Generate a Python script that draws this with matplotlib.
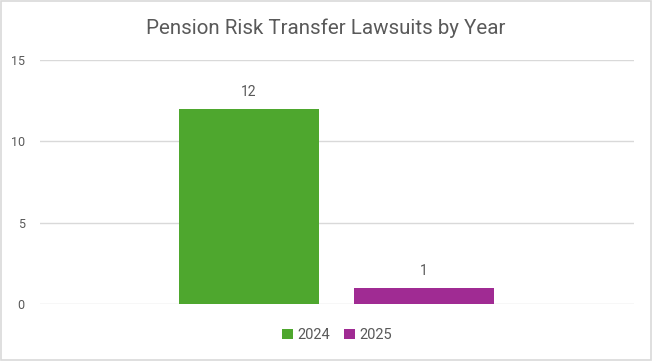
import matplotlib.pyplot as plt
from matplotlib.patches import Rectangle

years = ['2024', '2025']
lawsuits = [12, 1]
colors = ['#4EA72E', '#A02B93']
y_ticks = [0, 5, 10, 15]

plt.rcParams['font.family'] = ['Roboto', 'DejaVu Sans']
text_color = '#595959'

fig = plt.figure(figsize=(6.52, 3.61), dpi=100)
ax = fig.add_axes([40 / 652, 57 / 361, 594 / 652, 244 / 361])

positions = [0, 1.25]
for pos, year, val, col in zip(positions, years, lawsuits, colors):
    ax.bar(pos, val, width=1.0, color=col, label=year, zorder=3)
    ax.text(pos, val + 0.6, str(val), ha='center', va='bottom',
            fontsize=10, color=text_color)

ax.set_xlim(-1.49, 2.75)
ax.set_ylim(0, 15)
ax.set_yticks(y_ticks)
ax.set_xticks([])
ax.tick_params(axis='y', length=0, labelsize=9, labelcolor=text_color, pad=11)
ax.grid(axis='y', color='#D9D9D9', linewidth=1, zorder=0)
for s in ax.spines.values():
    s.set_visible(False)

fig.text(0.5, 1 - 28 / 361, 'Pension Risk Transfer Lawsuits by Year',
         ha='center', va='center', fontsize=14.8, color=text_color)

fig.legend(loc='center', bbox_to_anchor=(337 / 652, 1 - 335 / 361), ncol=2,
           frameon=False, fontsize=10.5, labelcolor=text_color,
           handlelength=0.7, handleheight=0.7, handletextpad=0.3,
           columnspacing=1.0)

fig.patches.append(Rectangle((0.002, 0.003), 0.996, 0.994, transform=fig.transFigure,
                             fill=False, edgecolor='#D9D9D9', linewidth=1.2))

fig.savefig('out.png', dpi=100)
